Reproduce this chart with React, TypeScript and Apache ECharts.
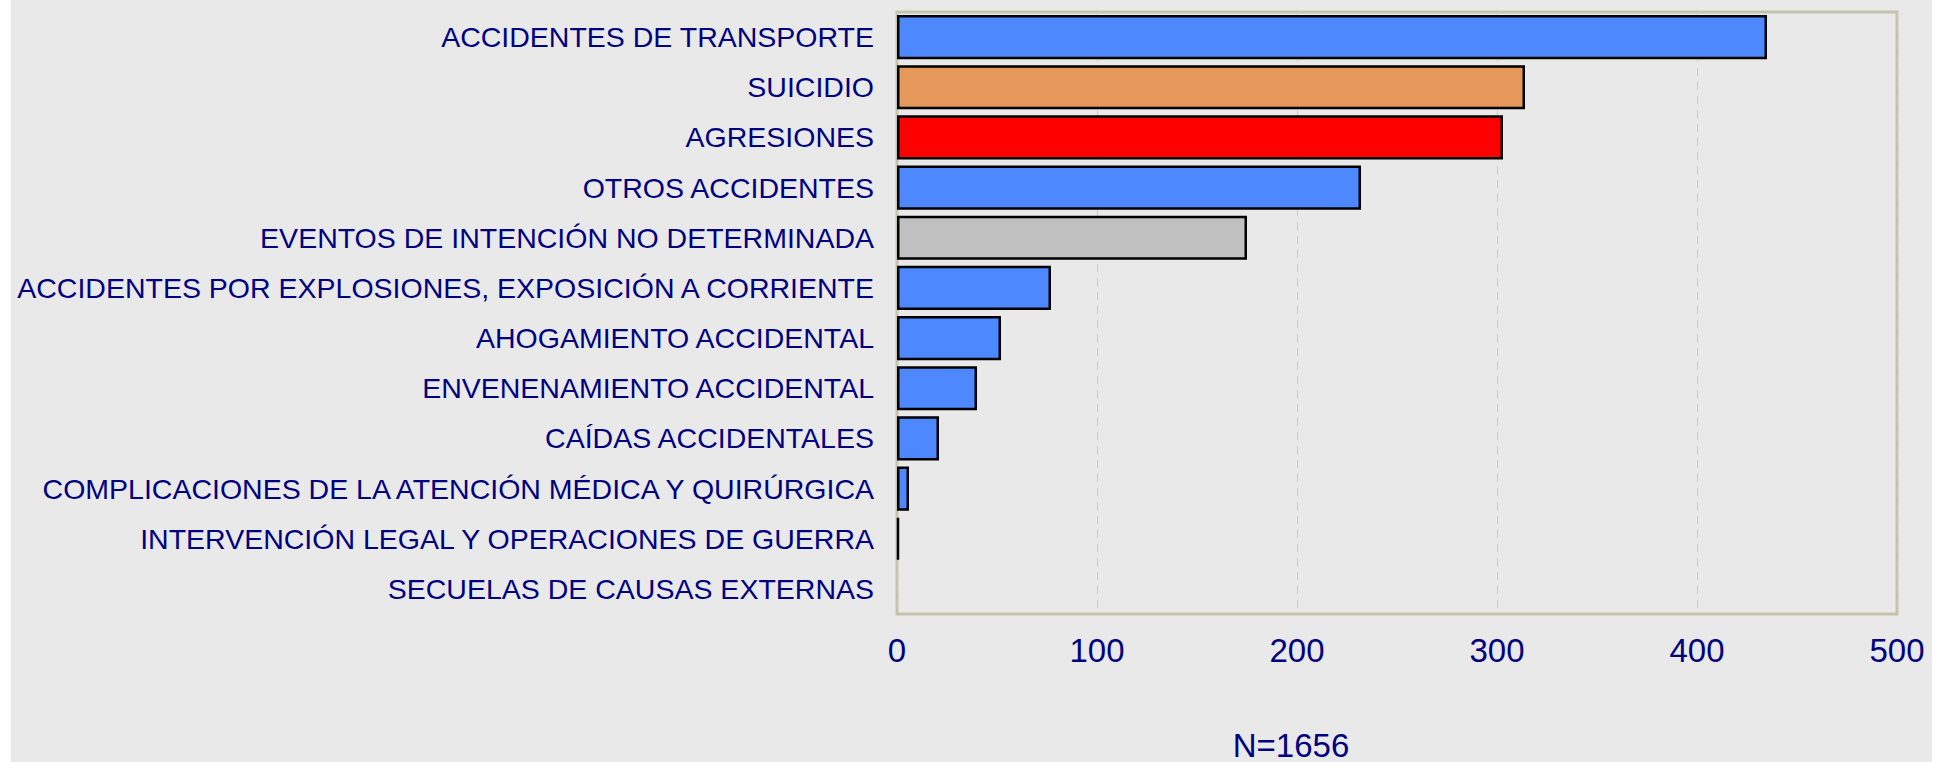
import React, { useEffect, useRef } from "react";
import * as echarts from "echarts";

const categories = [
  "ACCIDENTES DE TRANSPORTE",
  "SUICIDIO",
  "AGRESIONES",
  "OTROS ACCIDENTES",
  "EVENTOS DE INTENCIÓN NO DETERMINADA",
  "ACCIDENTES POR EXPLOSIONES, EXPOSICIÓN A CORRIENTE",
  "AHOGAMIENTO ACCIDENTAL",
  "ENVENENAMIENTO ACCIDENTAL",
  "CAÍDAS ACCIDENTALES",
  "COMPLICACIONES DE LA ATENCIÓN MÉDICA Y QUIRÚRGICA",
  "INTERVENCIÓN LEGAL Y OPERACIONES DE GUERRA",
  "SECUELAS DE CAUSAS EXTERNAS",
];

const values = [435, 314, 303, 232, 175, 77, 52, 40, 21, 6, 1, 0];

const footnote = "N=1656";

const BLUE = "#4d88ff";
const barColors = [
  BLUE,
  "#e6975a",
  "#ff0000",
  BLUE,
  "#c0c0c0",
  BLUE,
  BLUE,
  BLUE,
  BLUE,
  BLUE,
  BLUE,
  BLUE,
];

const FONT = "'Liberation Sans', Arial, sans-serif";
const NAVY = "#000080";

export default function App() {
  const ref = useRef<HTMLDivElement>(null);

  useEffect(() => {
    if (!ref.current) return;
    const chart = echarts.init(ref.current, undefined, { renderer: "svg" });
    chart.setOption({
      animation: false,
      backgroundColor: "#e9e9e9",
      textStyle: { fontFamily: FONT },
      grid: {
        left: 886,
        right: 35,
        top: 12,
        bottom: 148,
        show: true,
        borderColor: "#c4c4ae",
        borderWidth: 3,
        backgroundColor: "transparent",
        containLabel: false,
        outerBoundsMode: "none",
      },
      xAxis: {
        type: "value",
        min: 0,
        max: 500,
        interval: 100,
        axisLine: { show: false },
        axisTick: { show: false },
        axisLabel: {
          color: NAVY,
          fontSize: 33,
          fontFamily: FONT,
          margin: 20,
        },
        splitLine: {
          show: true,
          lineStyle: { color: "#cdcdbd", type: [8, 6], width: 1 },
        },
      },
      yAxis: {
        type: "category",
        data: categories,
        inverse: true,
        axisLine: { show: false },
        axisTick: { show: false },
        splitLine: { show: false },
        axisLabel: {
          color: NAVY,
          fontSize: 28.5,
          fontFamily: FONT,
          margin: 23,
        },
      },
      series: [
        {
          type: "bar",
          barCategoryGap: "12%",
          data: values.map((v, i) => ({
            value: v,
            itemStyle: {
              color: barColors[i],
              borderColor: "#000000",
              borderWidth: v > 0 ? 2.5 : 0,
            },
          })),
        },
      ],
      graphic: [
        {
          type: "text",
          x: 1280,
          y: 745,
          style: {
            text: footnote,
            fill: NAVY,
            fontSize: 33,
            fontFamily: FONT,
            textAlign: "center",
            textVerticalAlign: "middle",
          },
        },
      ],
    });
    return () => chart.dispose();
  }, []);

  return (
    <div
      ref={ref}
      style={{
        position: "absolute",
        left: 11,
        top: 0,
        width: 1921,
        height: 762,
      }}
    />
  );
}
